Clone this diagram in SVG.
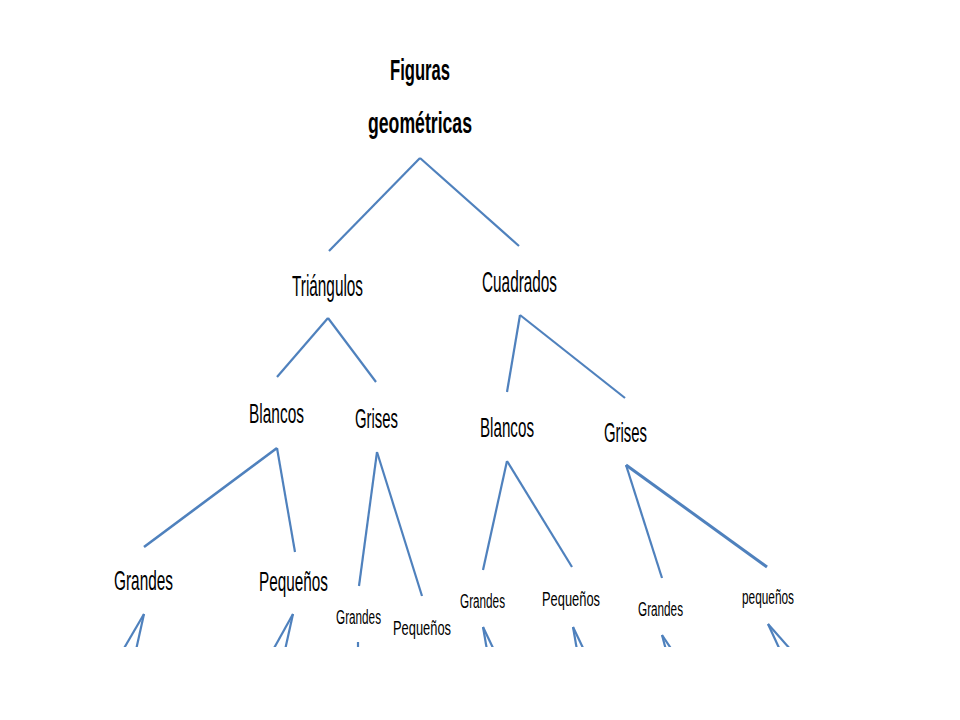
<svg xmlns="http://www.w3.org/2000/svg" width="960" height="720" viewBox="0 0 960 720">
<style>
.t{font-family:"Liberation Sans",Arial,sans-serif;fill:#000}
.b{font-weight:bold;font-size:30px}
.l{font-size:29px}
.m{font-size:28px}
.s{font-size:21px}
.c line{stroke:#4F81BD;stroke-width:2.2;stroke-linecap:butt}
</style>
<defs><clipPath id="clip"><rect x="0" y="0" width="960" height="647"/></clipPath></defs>
<rect width="960" height="720" fill="#fff"/>
<g id="connectors" class="c" clip-path="url(#clip)">
<line x1="420" y1="158" x2="329" y2="251"/>
<line x1="420" y1="158" x2="519" y2="246"/>
<line x1="328" y1="318" x2="277" y2="377"/>
<line x1="328" y1="318" x2="376" y2="382"/>
<line x1="520" y1="315" x2="507" y2="392"/>
<line x1="520" y1="315" x2="625" y2="398"/>
<line x1="277" y1="448" x2="144" y2="547" style="stroke-width:2.6"/>
<line x1="277" y1="448" x2="295" y2="552"/>
<line x1="377" y1="452" x2="359" y2="586"/>
<line x1="377" y1="452" x2="422" y2="596"/>
<line x1="507" y1="461" x2="483" y2="570"/>
<line x1="507" y1="461" x2="572" y2="567"/>
<line x1="626" y1="465" x2="662" y2="578"/>
<line x1="626" y1="465" x2="767" y2="567" style="stroke-width:3"/>
<line x1="144" y1="614" x2="123" y2="650"/>
<line x1="144" y1="614" x2="136" y2="650"/>
<line x1="293" y1="614" x2="273" y2="650"/>
<line x1="293" y1="614" x2="285" y2="650"/>
<line x1="358" y1="642" x2="358" y2="650"/>
<line x1="483" y1="627" x2="487" y2="650"/>
<line x1="483" y1="627" x2="494" y2="650"/>
<line x1="573" y1="627" x2="577" y2="650"/>
<line x1="573" y1="627" x2="584" y2="650"/>
<line x1="662" y1="635" x2="666" y2="650"/>
<line x1="662" y1="635" x2="672" y2="650"/>
<line x1="768" y1="624" x2="780" y2="650"/>
<line x1="768" y1="624" x2="791" y2="650"/>
</g>
<g id="n-root" class="t b">
<text transform="translate(390,80) scale(0.554,1)" textLength="108.3" lengthAdjust="spacingAndGlyphs">Figuras</text>
<text transform="translate(368,133) scale(0.589,1)" textLength="176.6" lengthAdjust="spacingAndGlyphs">geométricas</text>
</g>
<g id="n-triangulos" class="t l"><text transform="translate(292,296) scale(0.524,1)" textLength="135.5" lengthAdjust="spacingAndGlyphs">Triángulos</text></g>
<g id="n-cuadrados" class="t l"><text transform="translate(482,292) scale(0.529,1)" textLength="141.8" lengthAdjust="spacingAndGlyphs">Cuadrados</text></g>
<g id="n-t-blancos" class="t m"><text transform="translate(249,423) scale(0.552,1)" textLength="99.6" lengthAdjust="spacingAndGlyphs">Blancos</text></g>
<g id="n-t-grises" class="t m"><text transform="translate(355,428) scale(0.532,1)" textLength="80.8" lengthAdjust="spacingAndGlyphs">Grises</text></g>
<g id="n-c-blancos" class="t m"><text transform="translate(480,437) scale(0.542,1)" textLength="99.6" lengthAdjust="spacingAndGlyphs">Blancos</text></g>
<g id="n-c-grises" class="t m"><text transform="translate(604,442) scale(0.532,1)" textLength="80.8" lengthAdjust="spacingAndGlyphs">Grises</text></g>
<g id="n-tb-grandes" class="t m"><text transform="translate(114,590) scale(0.549,1)" textLength="107.5" lengthAdjust="spacingAndGlyphs">Grandes</text></g>
<g id="n-tb-pequenos" class="t m"><text transform="translate(259,591) scale(0.547,1)" textLength="126.1" lengthAdjust="spacingAndGlyphs">Pequeños</text></g>
<g id="n-tg-grandes" class="t s"><text transform="translate(336,624) scale(0.559,1)" textLength="80.5" lengthAdjust="spacingAndGlyphs">Grandes</text></g>
<g id="n-tg-pequenos" class="t s"><text transform="translate(393,635) scale(0.613,1)" textLength="94.6" lengthAdjust="spacingAndGlyphs">Pequeños</text></g>
<g id="n-cb-grandes" class="t s"><text transform="translate(460,608) scale(0.559,1)" textLength="80.5" lengthAdjust="spacingAndGlyphs">Grandes</text></g>
<g id="n-cb-pequenos" class="t s"><text transform="translate(542,606) scale(0.613,1)" textLength="94.6" lengthAdjust="spacingAndGlyphs">Pequeños</text></g>
<g id="n-cg-grandes" class="t s"><text transform="translate(638,616) scale(0.559,1)" textLength="80.5" lengthAdjust="spacingAndGlyphs">Grandes</text></g>
<g id="n-cg-pequenos" class="t s"><text transform="translate(742,604) scale(0.564,1)" textLength="92.2" lengthAdjust="spacingAndGlyphs">pequeños</text></g>
</svg>
